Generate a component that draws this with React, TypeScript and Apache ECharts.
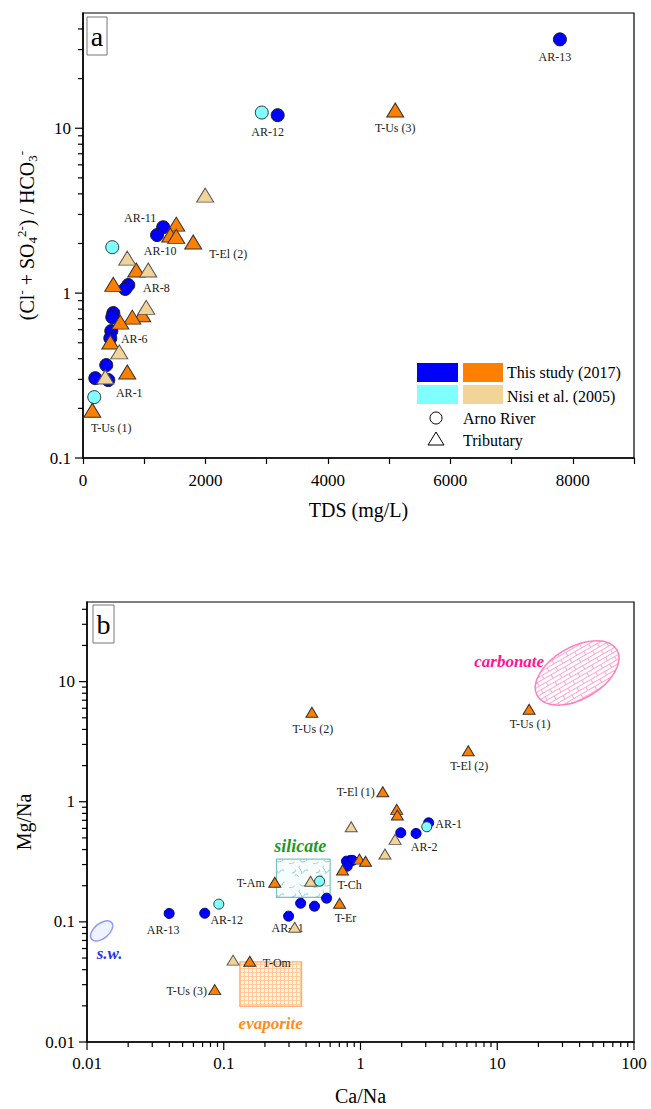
import React, { useEffect, useRef } from 'react';
import * as echarts from 'echarts';

const FONT = '"Liberation Serif", "Times New Roman", serif';

// ---------------- Panel a : TDS (mg/L) vs (Cl- + SO4 2-)/HCO3- ----------------
const arnoThisA: [number, number, string][] = [
  [7790, 34.6, 'AR-13'],
  [3180, 12.0, 'AR-12'],
  [1310, 2.51, 'AR-11'],
  [1210, 2.25, 'AR-10'],
  [740, 1.12, 'AR-8'],
  [690, 1.06, ''],
  [495, 0.757, ''],
  [478, 0.715, ''],
  [462, 0.589, 'AR-6'],
  [446, 0.533, ''],
  [380, 0.366, ''],
  [201, 0.305, ''],
  [413, 0.297, 'AR-1'],
];
const arnoNisiA: [number, number, string][] = [
  [2920, 12.45, ''],
  [478, 1.9, ''],
  [184, 0.234, ''],
];
const tribThisA: [number, number, string][] = [
  [5100, 12.9, 'T-Us (3)'],
  [1523, 2.62, ''],
  [1425, 2.25, ''],
  [1523, 2.21, ''],
  [1800, 2.04, 'T-El (2)'],
  [870, 1.38, ''],
  [495, 1.13, ''],
  [968, 0.74, ''],
  [805, 0.715, ''],
  [609, 0.667, ''],
  [446, 0.505, ''],
  [723, 0.332, ''],
  [152, 0.195, 'T-Us (1)'],
];
const tribNisiA: [number, number, string][] = [
  [1996, 3.93, ''],
  [723, 1.63, ''],
  [1066, 1.38, ''],
  [1033, 0.82, ''],
  [593, 0.44, ''],
  [364, 0.31, ''],
];

// ---------------- Panel b : Ca/Na vs Mg/Na ----------------
const arnoThisB: [number, number, string][] = [
  [0.0399, 0.1175, 'AR-13'],
  [0.0726, 0.118, 'AR-12'],
  [0.298, 0.1116, 'AR-11'],
  [0.365, 0.143, ''],
  [0.461, 0.135, ''],
  [0.565, 0.1575, ''],
  [0.79, 0.32, ''],
  [0.845, 0.325, ''],
  [0.875, 0.325, ''],
  [0.8, 0.291, ''],
  [1.97, 0.552, ''],
  [2.55, 0.545, 'AR-2'],
  [3.15, 0.668, 'AR-1'],
];
const arnoNisiB: [number, number, string][] = [
  [0.092, 0.1405, ''],
  [0.502, 0.218, ''],
  [3.05, 0.619, ''],
];
const tribThisB: [number, number, string][] = [
  [0.441, 5.56, 'T-Us (2)'],
  [17.1, 5.89, 'T-Us (1)'],
  [6.14, 2.66, 'T-El (2)'],
  [1.455, 1.21, 'T-El (1)'],
  [1.84, 0.864, ''],
  [1.86, 0.775, ''],
  [0.983, 0.333, ''],
  [1.088, 0.32, ''],
  [0.739, 0.27, 'T-Ch'],
  [0.236, 0.214, 'T-Am'],
  [0.703, 0.143, 'T-Er'],
  [0.155, 0.047, 'T-Om'],
  [0.0859, 0.0273, 'T-Us (3)'],
];
const tribNisiB: [number, number, string][] = [
  [0.855, 0.619, ''],
  [1.79, 0.486, ''],
  [1.51, 0.367, ''],
  [0.4315, 0.218, ''],
  [0.33, 0.0903, ''],
  [0.117, 0.048, ''],
];

// end-member fields (Ca/Na, Mg/Na)
const carbonateCenter: [number, number] = [38.4, 11.8];
const seawaterCenter: [number, number] = [0.0128, 0.0841];
const silicateCa: [number, number] = [0.243, 0.6];
const silicateMg: [number, number] = [0.16, 0.333];
const evaporiteCa: [number, number] = [0.131, 0.371];
const evaporiteMg: [number, number] = [0.0198, 0.0464];

// ticks
const xTicksA = [0, 1000, 2000, 3000, 4000, 5000, 6000, 7000, 8000, 9000];
const yMajorA = [0.1, 1, 10];
const yMinorA = [0.2, 0.3, 0.4, 0.5, 0.6, 0.7, 0.8, 0.9, 2, 3, 4, 5, 6, 7, 8, 9, 20, 30, 40];
const xMajorB = [0.01, 0.1, 1, 10, 100];
const xMinorB = [0.02, 0.03, 0.04, 0.05, 0.06, 0.07, 0.08, 0.09, 0.2, 0.3, 0.4, 0.5, 0.6, 0.7, 0.8, 0.9,
  2, 3, 4, 5, 6, 7, 8, 9, 20, 30, 40, 50, 60, 70, 80, 90];
const yMajorB = [0.01, 0.1, 1, 10];
const yMinorB = [0.02, 0.03, 0.04, 0.05, 0.06, 0.07, 0.08, 0.09, 0.2, 0.3, 0.4, 0.5, 0.6, 0.7, 0.8, 0.9,
  2, 3, 4, 5, 6, 7, 8, 9, 20, 30, 40];

// label placement (pixel offsets from the marker centre)
const labelOffsetA: Record<string, [number, number]> = {
  'AR-13': [-5, 18], 'AR-12': [-10, 17], 'T-Us (3)': [0, 18], 'AR-11': [-23, -9], 'AR-10': [3, 16],
  'T-El (2)': [35, 12], 'AR-8': [28, 3], 'AR-6': [23, 8], 'AR-1': [21, 13], 'T-Us (1)': [19, 18],
};
const labelOffsetB: Record<string, [number, number]> = {
  'T-Us (2)': [1, 17], 'T-Us (1)': [1, 15], 'T-El (2)': [1, 15], 'T-El (1)': [-27, 0], 'AR-1': [20, 1],
  'AR-2': [8, 14], 'T-Ch': [7, 15], 'T-Am': [-24, 1], 'T-Er': [6, 15], 'AR-12': [22, 7], 'AR-13': [-6, 17],
  'AR-11': [-1, 12], 'T-Om': [27, 2], 'T-Us (3)': [-28, 1],
};

const BLUE = '#0000ff';
const CYAN = '#80ffff';
const ORANGE = '#ff8000';
const TAN = '#f2d398';

function makePattern(w: number, h: number, draw: (c: CanvasRenderingContext2D) => void) {
  const cv = document.createElement('canvas');
  cv.width = w;
  cv.height = h;
  const ctx = cv.getContext('2d')!;
  draw(ctx);
  return { image: cv.toDataURL(), repeat: 'repeat', imageWidth: w, imageHeight: h };
}

function fmtDecade(v: number) {
  const e = Math.log10(v);
  if (Math.abs(e - Math.round(e)) > 1e-6) return '';
  return String(Number(v.toPrecision(6)));
}

function scatter(
  data: [number, number, string][], xi: number, yi: number, symbol: string, size: any,
  color: string, border: string, offsets: Record<string, [number, number]>, z: number,
) {
  return {
    type: 'scatter', xAxisIndex: xi, yAxisIndex: yi, symbol, symbolSize: size, z,
    itemStyle: { color, borderColor: border, borderWidth: 1, opacity: 1 },
    emphasis: { disabled: true },
    label: {
      show: false, position: 'inside', formatter: (p: any) => p.name, color: '#222',
      fontFamily: FONT, fontSize: 12, textBorderWidth: 0,
    },
    data: data.map((d) => ({
      value: [d[0], d[1]],
      name: d[2],
      label: d[2] ? { show: true, offset: offsets[d[2]] || [0, 0] } : { show: false },
    })),
  };
}

type Tick = { axis: 'x' | 'y'; v: number; major: boolean };

function tickSeries(xi: number, yi: number, ticks: Tick[], xMin: number, yMin: number) {
  return {
    type: 'custom', xAxisIndex: xi, yAxisIndex: yi, silent: true, clip: false, z: 1,
    data: ticks.map((t) => (t.axis === 'x' ? [t.v, yMin] : [xMin, t.v])),
    renderItem: (params: any, api: any) => {
      const t = ticks[params.dataIndex];
      const p = api.coord([api.value(0), api.value(1)]);
      const len = t.major ? 8 : 5;
      const shape = t.axis === 'x'
        ? { x1: p[0], y1: p[1], x2: p[0], y2: p[1] + len }
        : { x1: p[0] - len, y1: p[1], x2: p[0], y2: p[1] };
      return { type: 'line', shape, style: { stroke: '#000', lineWidth: 1.2 } };
    },
  };
}

export default function App() {
  const ref = useRef<HTMLDivElement>(null);
  useEffect(() => {
    document.body.style.margin = '0';
    const chart = echarts.init(ref.current!, null, { renderer: 'svg', width: 651, height: 1109 });

    const brick = makePattern(16, 8, (c) => {
      c.fillStyle = '#ffffff';
      c.fillRect(0, 0, 16, 8);
      c.strokeStyle = '#ffa6d2';
      c.lineWidth = 1;
      c.beginPath();
      c.moveTo(0, 0.5); c.lineTo(16, 0.5);
      c.moveTo(0, 4.5); c.lineTo(16, 4.5);
      c.moveTo(0.5, 0); c.lineTo(0.5, 4.5);
      c.moveTo(8.5, 4.5); c.lineTo(8.5, 8);
      c.stroke();
    });
    const squiggle = makePattern(24, 24, (c) => {
      c.fillStyle = '#f7fcfc';
      c.fillRect(0, 0, 24, 24);
      c.strokeStyle = '#8ccfcf';
      c.lineWidth = 1;
      const arcs = [[4, 5, 4, 0.2, 1.6], [14, 3, 3, 2.0, 3.6], [19, 10, 4, 3.5, 5.0], [8, 14, 3, 4.2, 5.8],
        [3, 20, 4, 0.5, 2.0], [15, 18, 4, 1.0, 2.6], [21, 21, 3, 3.0, 4.6], [11, 9, 3, 5.2, 6.6]];
      arcs.forEach((a) => { c.beginPath(); c.arc(a[0], a[1], a[2], a[3], a[4]); c.stroke(); });
    });
    const grid = makePattern(4, 4, (c) => {
      c.fillStyle = '#fff4e8';
      c.fillRect(0, 0, 4, 4);
      c.strokeStyle = '#ffcc99';
      c.lineWidth = 1;
      c.beginPath();
      c.moveTo(0, 0.5); c.lineTo(4, 0.5);
      c.moveTo(0.5, 0); c.lineTo(0.5, 4);
      c.stroke();
    });

    const regionFont = { fontFamily: FONT, fontWeight: 'bold', fontStyle: 'italic', align: 'center', verticalAlign: 'middle' };

    const regionSeries = {
      type: 'custom', xAxisIndex: 1, yAxisIndex: 1, silent: true, clip: false, z: 1,
      data: [carbonateCenter, [silicateCa[0], silicateMg[0]], [evaporiteCa[0], evaporiteMg[0]], seawaterCenter],
      renderItem: (params: any, api: any) => {
        const i = params.dataIndex;
        if (i === 0) {
          const c = api.coord(carbonateCenter);
          return {
            type: 'group', children: [
              { type: 'ellipse', x: c[0], y: c[1], rotation: (30 * Math.PI) / 180, shape: { cx: 0, cy: 0, rx: 46, ry: 26 },
                style: { fill: brick, stroke: '#ff80c0', lineWidth: 1.5 } },
              { type: 'text', x: c[0] - 68, y: c[1] - 11, style: { text: 'carbonate', fill: '#ff1493', fontSize: 17, ...regionFont } },
            ],
          };
        }
        if (i === 1 || i === 2) {
          const ca = i === 1 ? silicateCa : evaporiteCa;
          const mg = i === 1 ? silicateMg : evaporiteMg;
          const p0 = api.coord([ca[0], mg[1]]);
          const p1 = api.coord([ca[1], mg[0]]);
          const cx = (p0[0] + p1[0]) / 2;
          return {
            type: 'group', children: [
              { type: 'rect', shape: { x: p0[0], y: p0[1], width: p1[0] - p0[0], height: p1[1] - p0[1] },
                style: { fill: i === 1 ? squiggle : grid, stroke: i === 1 ? '#7cc4c4' : '#ffb070', lineWidth: 1.2 } },
              i === 1
                ? { type: 'text', x: cx - 3, y: p0[1] - 13, style: { text: 'silicate', fill: '#1f9a1f', fontSize: 18, ...regionFont } }
                : { type: 'text', x: cx, y: p1[1] + 17, style: { text: 'evaporite', fill: '#ff8c1a', fontSize: 17, ...regionFont } },
            ],
          };
        }
        const c = api.coord(seawaterCenter);
        return {
          type: 'group', children: [
            { type: 'ellipse', x: c[0], y: c[1], rotation: (40 * Math.PI) / 180, shape: { cx: 0, cy: 0, rx: 13, ry: 7.5 },
              style: { fill: '#eef3ff', stroke: '#8c9cff', lineWidth: 1.5 } },
            { type: 'text', x: c[0] + 8, y: c[1] + 23, style: { text: 's.w.', fill: '#2233ee', fontSize: 17, ...regionFont } },
          ],
        };
      },
    };

    const ticksA: Tick[] = [
      ...yMajorA.map((v) => ({ axis: 'y' as const, v, major: true })),
      ...yMinorA.map((v) => ({ axis: 'y' as const, v, major: false })),
    ];
    const ticksB: Tick[] = [
      ...xMajorB.map((v) => ({ axis: 'x' as const, v, major: true })),
      ...xMinorB.map((v) => ({ axis: 'x' as const, v, major: false })),
      ...yMajorB.map((v) => ({ axis: 'y' as const, v, major: true })),
      ...yMinorB.map((v) => ({ axis: 'y' as const, v, major: false })),
    ];

    const axisLabel = { fontFamily: FONT, fontSize: 17, color: '#000' };
    const axisLine = { show: true, lineStyle: { color: '#000', width: 1.5 } };
    const nameStyle = { fontFamily: FONT, fontSize: 20, color: '#000' };

    const option: any = {
      animation: false,
      backgroundColor: '#fff',
      grid: [
        { left: 83, right: 17, top: 13, bottom: 651, show: true, borderColor: '#000', borderWidth: 1.2, containLabel: false, outerBoundsMode: 'none' },
        { left: 87, right: 17, top: 602, bottom: 67, show: true, borderColor: '#000', borderWidth: 1.2, containLabel: false, outerBoundsMode: 'none' },
      ],
      xAxis: [
        {
          gridIndex: 0, type: 'value', min: 0, max: 9000, interval: 1000, axisLine,
          axisTick: { show: true, length: 6, lineStyle: { color: '#000', width: 1.2 } },
          axisLabel: { ...axisLabel, margin: 14, formatter: (v: number) => (xTicksA.indexOf(v) >= 0 && v % 2000 === 0 ? String(v) : '') },
          splitLine: { show: false },
          name: 'TDS (mg/L)', nameLocation: 'middle', nameGap: 42, nameTextStyle: nameStyle,
        },
        {
          gridIndex: 1, type: 'log', logBase: 10, min: 0.01, max: 100, axisLine,
          axisTick: { show: false },
          axisLabel: { ...axisLabel, margin: 13, formatter: fmtDecade },
          splitLine: { show: false }, minorTick: { show: false },
          name: 'Ca/Na', nameLocation: 'middle', nameGap: 44, nameTextStyle: nameStyle,
        },
      ],
      yAxis: [
        {
          gridIndex: 0, type: 'log', logBase: 10, min: 0.1, max: 50, axisLine,
          axisTick: { show: false },
          axisLabel: { ...axisLabel, margin: 12, formatter: fmtDecade },
          splitLine: { show: false },
          name: '{n|(Cl}{sp|-}{n| + SO}{sb|4}{sp|2-}{n|) / HCO}{sb|3}{sp|-}',
          nameLocation: 'middle', nameGap: 37,
          nameTextStyle: {
            ...nameStyle,
            rich: {
              n: { fontFamily: FONT, fontSize: 20, color: '#000', lineHeight: 24 },
              sp: { fontFamily: FONT, fontSize: 13, color: '#000', verticalAlign: 'top', lineHeight: 14 },
              sb: { fontFamily: FONT, fontSize: 13, color: '#000', verticalAlign: 'bottom', lineHeight: 14 },
            },
          },
        },
        {
          gridIndex: 1, type: 'log', logBase: 10, min: 0.01, max: 46, axisLine,
          axisTick: { show: false },
          axisLabel: { ...axisLabel, margin: 12, formatter: fmtDecade },
          splitLine: { show: false },
          name: 'Mg/Na', nameLocation: 'middle', nameGap: 40, nameTextStyle: nameStyle,
        },
      ],
      series: [
        tickSeries(0, 0, ticksA, 0, 0.1),
        tickSeries(1, 1, ticksB, 0.01, 0.01),
        regionSeries,
        scatter(arnoThisA, 0, 0, 'circle', 13, BLUE, '#1a1a1a', labelOffsetA, 3),
        scatter(arnoNisiA, 0, 0, 'circle', 13, CYAN, '#333', labelOffsetA, 3),
        scatter(tribThisA, 0, 0, 'triangle', [17, 14], ORANGE, '#333', labelOffsetA, 4),
        scatter(tribNisiA, 0, 0, 'triangle', [17, 14], TAN, '#555', labelOffsetA, 4),
        scatter(arnoThisB, 1, 1, 'circle', 10, BLUE, '#000080', labelOffsetB, 3),
        scatter(arnoNisiB, 1, 1, 'circle', 10, CYAN, '#333', labelOffsetB, 3),
        scatter(tribThisB, 1, 1, 'triangle', [12, 10], ORANGE, '#333', labelOffsetB, 4),
        scatter(tribNisiB, 1, 1, 'triangle', [12, 10], TAN, '#555', labelOffsetB, 4),
      ],
      graphic: [
        // panel letters
        { type: 'rect', shape: { x: 87, y: 17, width: 20, height: 38 }, style: { fill: '#fff', stroke: '#777', lineWidth: 1 }, z: 10 },
        { type: 'text', x: 97, y: 36, style: { text: 'a', fontFamily: FONT, fontSize: 28, fill: '#000', align: 'center', verticalAlign: 'middle' }, z: 11 },
        { type: 'rect', shape: { x: 93, y: 605, width: 21, height: 38 }, style: { fill: '#fff', stroke: '#777', lineWidth: 1 }, z: 10 },
        { type: 'text', x: 103.5, y: 624, style: { text: 'b', fontFamily: FONT, fontSize: 28, fill: '#000', align: 'center', verticalAlign: 'middle' }, z: 11 },
        // legend
        { type: 'rect', shape: { x: 417, y: 363, width: 41, height: 19 }, style: { fill: BLUE }, z: 10 },
        { type: 'rect', shape: { x: 463, y: 363, width: 40, height: 19 }, style: { fill: ORANGE }, z: 10 },
        { type: 'rect', shape: { x: 417, y: 385, width: 41, height: 19 }, style: { fill: CYAN }, z: 10 },
        { type: 'rect', shape: { x: 463, y: 385, width: 40, height: 19 }, style: { fill: TAN }, z: 10 },
        { type: 'text', x: 507, y: 372, style: { text: 'This study (2017)', fontFamily: FONT, fontSize: 16, fill: '#000', verticalAlign: 'middle' }, z: 10 },
        { type: 'text', x: 507, y: 396, style: { text: 'Nisi et al. (2005)', fontFamily: FONT, fontSize: 16, fill: '#000', verticalAlign: 'middle' }, z: 10 },
        { type: 'circle', shape: { cx: 436, cy: 418, r: 6 }, style: { fill: 'none', stroke: '#000', lineWidth: 1 }, z: 10 },
        { type: 'polygon', shape: { points: [[428, 445], [444, 445], [436, 432]] }, style: { fill: 'none', stroke: '#000', lineWidth: 1 }, z: 10 },
        { type: 'text', x: 463, y: 418, style: { text: 'Arno River', fontFamily: FONT, fontSize: 16, fill: '#000', verticalAlign: 'middle' }, z: 10 },
        { type: 'text', x: 463, y: 440, style: { text: 'Tributary', fontFamily: FONT, fontSize: 16, fill: '#000', verticalAlign: 'middle' }, z: 10 },
      ],
    };

    chart.setOption(option);
    return () => chart.dispose();
  }, []);
  return <div ref={ref} style={{ width: 651, height: 1109 }} />;
}
